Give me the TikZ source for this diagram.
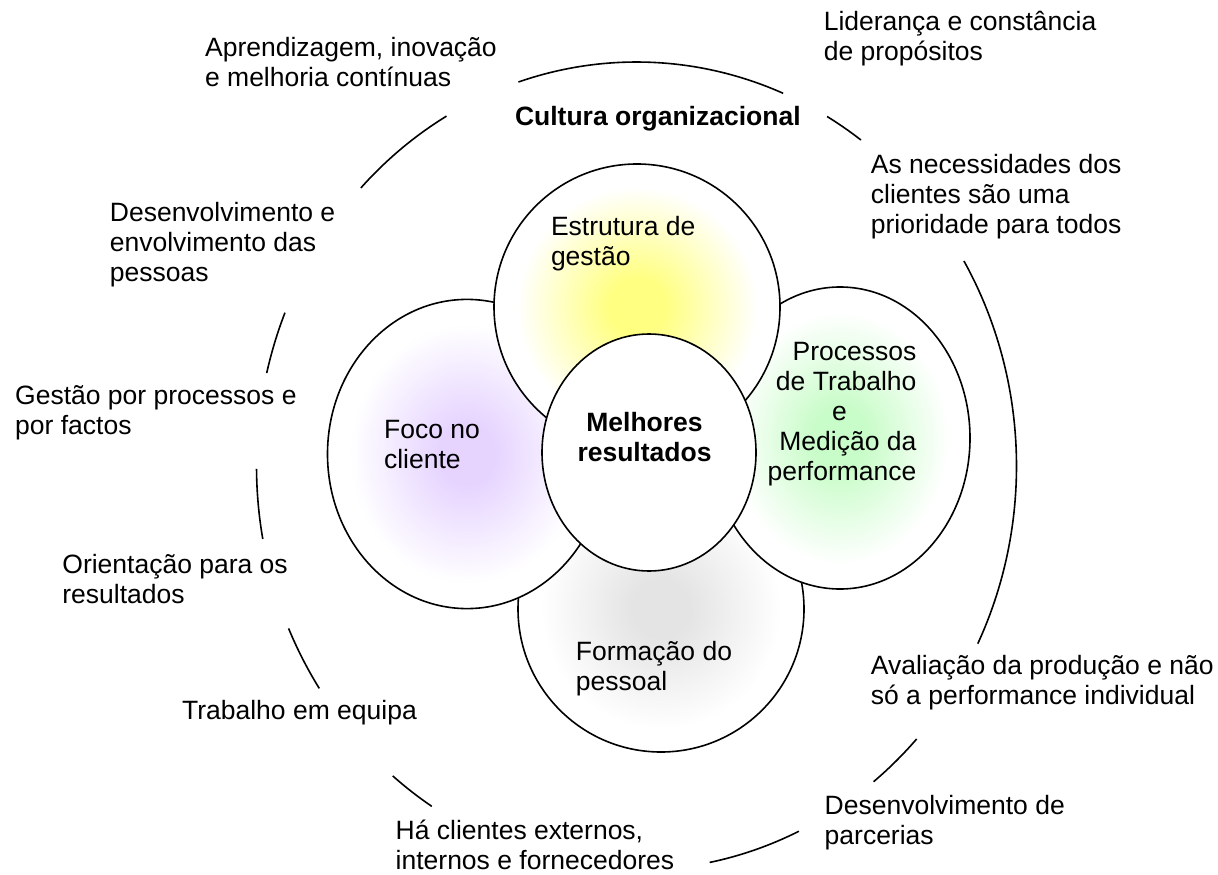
\documentclass[tikz,border=0pt]{standalone}
\usepackage{fontspec}
\setmainfont{Liberation Sans}
\usepackage{xcolor}
\usepackage{tikz}
\usetikzlibrary{shapes.geometric}
\definecolor{petalyellow}{RGB}{255,255,130}
\definecolor{petalpurple}{RGB}{230,212,255}
\definecolor{petalgreen}{RGB}{200,252,200}
\definecolor{petalgray}{RGB}{228,228,228}
\colorlet{petalcol}{white}
\pgfdeclareradialshading[petalcol]{petalglow}{\pgfpointorigin}{%
  color(0bp)=(petalcol); color(5bp)=(petalcol); color(21bp)=(white); color(50bp)=(white)}
\tikzset{
  ring/.style={line width=0.8pt},
  petal/.style={draw, line width=0.8pt, shade, shading=petalglow, /utils/exec={\colorlet{petalcol}{#1}}},
  lbl/.style={anchor=west, align=left, inner sep=0pt},
}
\newcommand{\ringarc}[2]{\draw[ring] (ctr) ++(#1:380 and 404) arc[start angle=#1, end angle=#2, x radius=380, y radius=404];}

\begin{document}
\begin{tikzpicture}[x=0.5pt, y=0.5pt, font=\fontsize{13.25}{15}\selectfont]
  \useasboundingbox (0,0) rectangle (1218,874);

  % Outer ring, broken where the labels sit
  \coordinate (ctr) at (636.5,408);
  \ringarc{67.3}{108.1}
  \ringarc{120}{136.5}
  \ringarc{157.7}{166.7}
  \ringarc{180.4}{190.4}
  \ringarc{203.7}{213.4}
  \ringarc{230.1}{237.4}
  \ringarc{281.1}{295.3}
  \ringarc{308.6}{317.5}
  \ringarc{-26.1}{30.5}
  \ringarc{53.8}{59.9}

  % Petals, back to front
  \draw[petal=petalgray] (661,265) circle[radius=143];
  \draw[petal=petalpurple] (467,420) ellipse[x radius=139.5, y radius=154.6];
  \draw[petal=petalgreen] (840,436) ellipse[x radius=130, y radius=151];
  \draw[petal=petalyellow] (637,567) circle[radius=143];
  \draw[line width=0.8pt, fill=white] (649,421.5) ellipse[x radius=107, y radius=118.5];

  % Inner labels
  \node[lbl] (estrutura) at (550.6,630.3) {Estrutura de\\gestão};
  \node[lbl] (foco) at (383.7,429) {Foco no\\cliente};
  \node[lbl] (formacao) at (575.5,205.6) {Formação do\\pessoal};
  \node[anchor=east, align=right, inner sep=0pt] (processos) at (916.8,459.6)
    {Processos\\de Trabalho\\e\rule{34.8pt}{0pt}\\Medição da\\performance};
  \node[align=center, inner sep=0pt, font=\fontsize{13.25}{15}\selectfont\bfseries] (melhores) at (644.5,436.6) {Melhores\\resultados};

  % Ring labels
  \node[lbl, font=\fontsize{13.25}{15}\selectfont\bfseries] (cultura) at (514.6,755) {Cultura organizacional};
  \node[lbl] (lideranca) at (823.4,835.3) {Liderança e constância\\de propósitos};
  \node[lbl] (aprendizagem) at (204.7,811.5) {Aprendizagem, inovação\\e melhoria contínuas};
  \node[lbl] (necessidades) at (870.5,677.3) {As necessidades dos\\clientes são uma\\prioridade para todos};
  \node[lbl] (pessoas) at (109.5,629.5) {Desenvolvimento e\\envolvimento das\\pessoas};
  \node[lbl] (factos) at (14.8,461.5) {Gestão por processos e\\por factos};
  \node[lbl] (orientacao) at (62,295.3) {Orientação para os\\resultados};
  \node[lbl] (equipa) at (181.7,161) {Trabalho em equipa};
  \node[lbl] (avaliacao) at (870.5,191) {Avaliação da produção e não\\só a performance individual};
  \node[lbl] (parcerias) at (824.3,51) {Desenvolvimento de\\parcerias};
  \node[lbl] (fornecedores) at (395.3,29.5) {Há clientes externos,\\internos e fornecedores};
\end{tikzpicture}
\end{document}
